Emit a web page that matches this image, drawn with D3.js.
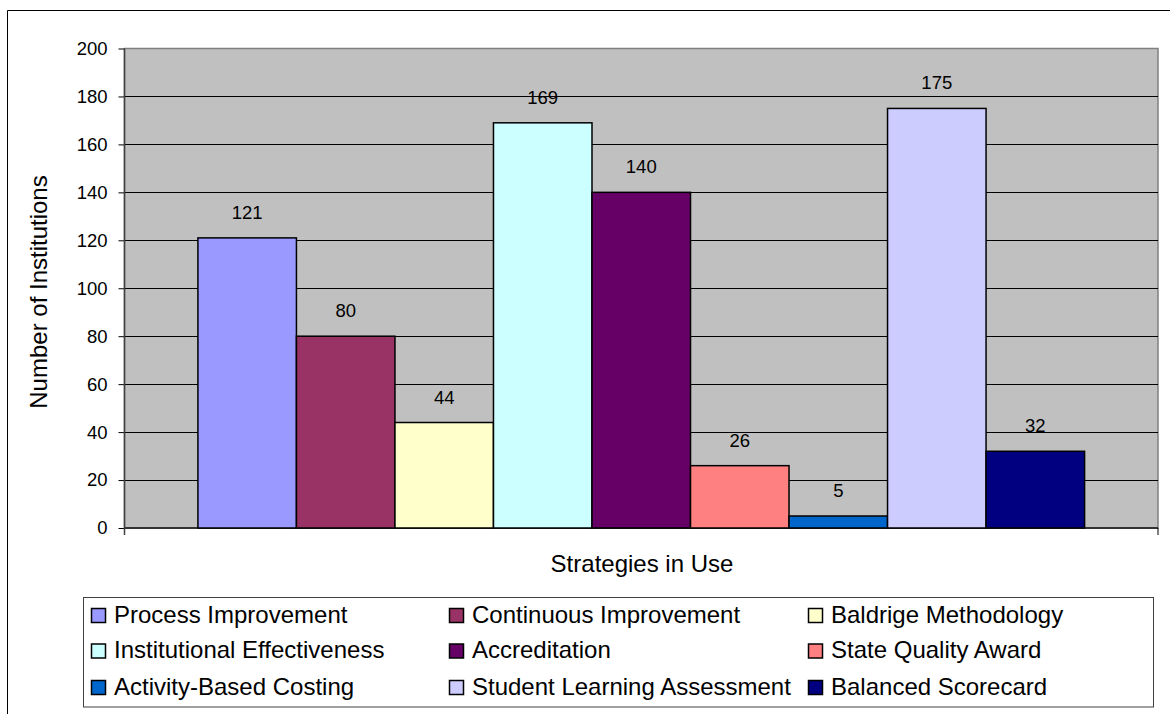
<!DOCTYPE html>
<html>
<head>
<meta charset="utf-8">
<script src="https://cdn.jsdelivr.net/npm/d3@7"></script>
<style>
  html, body { margin: 0; padding: 0; background: #fff; }
  svg { display: block; font-family: "Liberation Sans", Arial, sans-serif; }
</style>
</head>
<body>
<svg id="chart" width="1176" height="714"></svg>
<script>
// Strategies in use, one bar per strategy
const strategies = [
  "Process Improvement", "Continuous Improvement", "Baldrige Methodology",
  "Institutional Effectiveness", "Accreditation", "State Quality Award",
  "Activity-Based Costing", "Student Learning Assessment", "Balanced Scorecard"
];
const counts = [121, 80, 44, 169, 140, 26, 5, 175, 32];
const barColors = [
  "#9999FF", "#993366", "#FFFFCC", "#CCFFFF", "#660066",
  "#FF8080", "#0066CC", "#CCCCFF", "#000080"
];
const yTicks = [0, 20, 40, 60, 80, 100, 120, 140, 160, 180, 200];
const categoryLabel = "Strategies in Use";
const yTitle = "Number of Institutions";

const svg = d3.select("#chart");

// outer chart frame (top and left edges)
svg.append("path")
  .attr("d", "M7.5,714 V10.5 H1170")
  .attr("fill", "none").attr("stroke", "#000").attr("stroke-width", 1);

const plot = { left: 124.5, right: 1158, top: 48.5, bottom: 528 };

const y = d3.scaleLinear().domain([0, 200]).range([plot.bottom, plot.top]);

// single category with wide outer gaps, then one band per strategy
const xCat = d3.scaleBand().domain([categoryLabel])
  .range([plot.left, plot.right]).paddingInner(0).paddingOuter(0.0828);
const xBar = d3.scaleBand().domain(strategies)
  .range([xCat(categoryLabel), xCat(categoryLabel) + xCat.bandwidth()]).padding(0);

// plot background
svg.append("rect")
  .attr("x", plot.left).attr("y", plot.top)
  .attr("width", plot.right - plot.left).attr("height", plot.bottom - plot.top)
  .attr("fill", "#C0C0C0").attr("stroke", "#808080").attr("stroke-width", 1.5);

// horizontal gridlines
svg.append("g").selectAll("line")
  .data(yTicks.filter(t => t > 0 && t < 200))
  .join("line")
  .attr("x1", plot.left).attr("x2", plot.right)
  .attr("y1", d => Math.round(y(d)) + 0.5).attr("y2", d => Math.round(y(d)) + 0.5)
  .attr("stroke", "#000").attr("stroke-width", 1);

// x axis line with end ticks (drawn under the bars)
svg.append("line")
  .attr("x1", plot.left).attr("x2", plot.right)
  .attr("y1", plot.bottom).attr("y2", plot.bottom)
  .attr("stroke", "#333").attr("stroke-width", 2);
svg.append("line")
  .attr("x1", plot.right).attr("x2", plot.right)
  .attr("y1", plot.bottom).attr("y2", plot.bottom + 7)
  .attr("stroke", "#000").attr("stroke-width", 1);

// bars
svg.append("g").selectAll("rect")
  .data(strategies)
  .join("rect")
  .attr("x", d => xBar(d))
  .attr("y", (d, i) => y(counts[i]))
  .attr("width", xBar.bandwidth())
  .attr("height", (d, i) => plot.bottom - y(counts[i]))
  .attr("fill", (d, i) => barColors[i])
  .attr("stroke", "#000").attr("stroke-width", 1.5);

// value labels above bars
svg.append("g").selectAll("text")
  .data(strategies)
  .join("text")
  .attr("x", d => xBar(d) + xBar.bandwidth() / 2)
  .attr("y", (d, i) => y(counts[i]) - 19)
  .attr("text-anchor", "middle")
  .attr("font-size", 18.5)
  .attr("fill", "#000")
  .text((d, i) => counts[i]);

// y axis
const yAxis = svg.append("g")
  .attr("transform", `translate(${plot.left},0)`)
  .call(d3.axisLeft(y).tickValues(yTicks).tickSize(6).tickSizeOuter(0).tickPadding(11));
yAxis.select(".domain").remove();
yAxis.selectAll(".tick line").attr("stroke", "#000");
yAxis.selectAll(".tick text")
  .attr("font-size", 18.5).attr("font-family", "Liberation Sans, Arial, sans-serif")
  .attr("fill", "#000");
svg.append("line")
  .attr("x1", plot.left).attr("x2", plot.left)
  .attr("y1", plot.top).attr("y2", plot.bottom + 7)
  .attr("stroke", "#404040").attr("stroke-width", 1.5);

// axis titles
svg.append("text")
  .attr("x", 642).attr("y", 572)
  .attr("text-anchor", "middle").attr("font-size", 24).attr("fill", "#000")
  .text(categoryLabel);
svg.append("text")
  .attr("transform", "translate(46.5,292) rotate(-90)")
  .attr("text-anchor", "middle").attr("font-size", 24).attr("fill", "#000")
  .text(yTitle);

// legend
const legend = { x: 83.5, y: 597.5, w: 1070, h: 109.5 };
svg.append("rect")
  .attr("x", legend.x).attr("y", legend.y)
  .attr("width", legend.w).attr("height", legend.h)
  .attr("fill", "#fff").attr("stroke", "#404040").attr("stroke-width", 1);

const colX = [91, 449, 808];
const rowY = [608, 643.5, 680];
const items = svg.append("g").selectAll("g")
  .data(strategies)
  .join("g")
  .attr("transform", (d, i) => `translate(${colX[i % 3]},${rowY[Math.floor(i / 3)]})`);
items.append("rect")
  .attr("x", 0.5).attr("y", 0.5).attr("width", 14).attr("height", 14)
  .attr("fill", (d, i) => barColors[i]).attr("stroke", "#000").attr("stroke-width", 1.5);
items.append("text")
  .attr("x", 23).attr("y", 14.5)
  .attr("font-size", 24).attr("fill", "#000")
  .text(d => d);
</script>
</body>
</html>
